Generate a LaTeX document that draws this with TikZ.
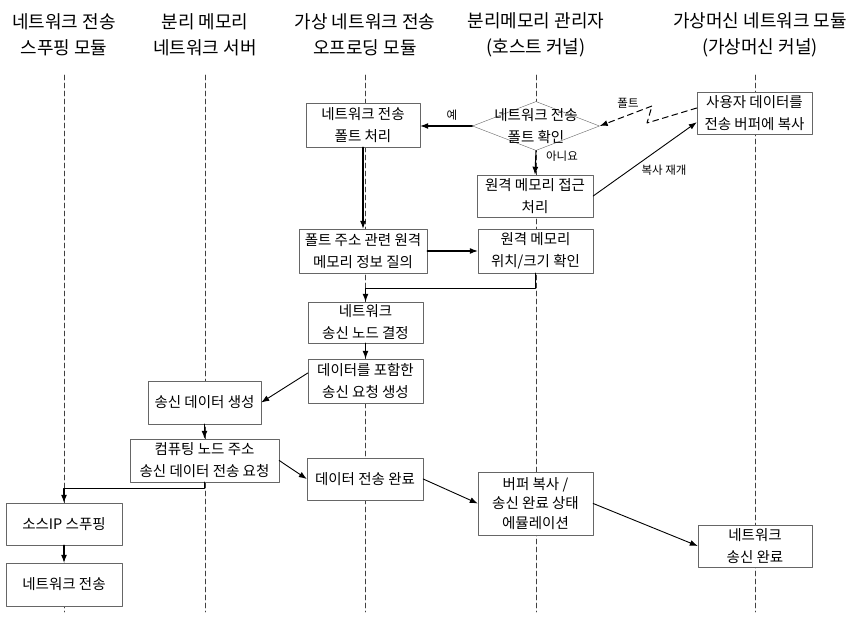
\documentclass[tikz,border=0pt]{standalone}
\usepackage{fontspec}
\setmainfont{Noto Sans CJK KR}
\usepackage{tikz}
\usetikzlibrary{shapes.geometric,arrows.meta,calc,positioning}

\tikzset{
  box/.style={draw=black!60, fill=white, align=center, inner sep=1pt,
    font=\fontsize{14.5}{22}\selectfont},
  decision/.style={diamond, draw=black!60, fill=white, inner sep=0pt,
    minimum width=127pt, minimum height=49pt},
  lane/.style={black!75, line width=0.6pt, dash pattern=on 5pt off 3pt},
  lanehead/.style={align=center, font=\fontsize{18}{26}\selectfont},
  arr/.style={-{Latex[length=8pt,width=6pt]}, line width=1.1pt},
  lbl/.style={font=\fontsize{11.5}{13}\selectfont},
}

\begin{document}
\begin{tikzpicture}[x=1pt, y=1pt, line cap=round, line join=round]
  \useasboundingbox (0,0) rectangle (857,624);

  % lanes
  \foreach \x in {64,205,365,536,755}
    \draw[lane] (\x,549) -- (\x,12);
  \node[lanehead] (h1) at (64,589) {네트워크 전송\\스푸핑 모듈};
  \node[lanehead] (h2) at (205,589) {분리 메모리\\네트워크 서버};
  \node[lanehead] (h3) at (365,589) {가상 네트워크 전송\\오프로딩 모듈};
  \node[lanehead] (h4) at (536,589) {분리메모리 관리자\\(호스트 커널)};
  \node[lanehead] (h5) at (760,589) {가상머신 네트워크 모듈\\(가상머신 커널)};

  % fault check
  \node[decision] (chk) at (536,498) {};
  \node[box, draw=none, fill=none] (chkt) at (chk) {네트워크 전송\\폴트 확인};
  \node[box, minimum width=114pt, minimum height=44pt] (flt) at (363,499) {네트워크 전송\\폴트 처리};
  \node[box, minimum width=116pt, minimum height=42pt] (rma) at (535,428) {원격 메모리 접근\\처리};
  \node[box, minimum width=115pt, minimum height=42pt] (usr) at (754.5,511) {사용자 데이터를\\전송 버퍼에 복사};

  \draw[arr] (chk.west) -- (flt.east |- chk.west);
  \node[lbl] (yes) at (452,509) {예};
  \draw[arr] (chk.south) -- (rma.north);
  \node[lbl] (no) at (562,468) {아니요};
  \coordinate (f1) at (647,501);
  \coordinate (f2) at (652,518);
  \draw[arr, line width=1pt, dash pattern=on 6pt off 4pt]
    ($(usr.west)+(0,5)$) -- (f1) -- (f2) -- (chk.east);
  \node[lbl] (fault) at (628,521) {폴트};
  \draw[arr, line width=0.9pt] (rma.east) -- ($(usr.south west)+(0,12)$);
  \node[lbl] (resume) at (664,454) {복사 재개};

  % remote memory
  \node[box, minimum width=128pt, minimum height=44pt] (qry) at (363,373) {폴트 주소 관련 원격\\메모리 정보 질의};
  \node[box, minimum width=115pt, minimum height=44pt] (loc) at (535.5,373) {원격 메모리\\위치/크기 확인};
  \draw[arr] (flt.south) -- (qry.north);
  \draw[arr] (qry.east) -- (loc.west);

  % send request
  \node[box, minimum width=115pt, minimum height=41pt] (nod) at (365.5,301.5) {네트워크\\송신 노드 결정};
  \node[box, minimum width=115pt, minimum height=44pt] (req) at (365.5,243) {데이터를 포함한\\송신 요청 생성};
  \node[box, minimum width=113pt, minimum height=43pt] (gen) at (204.5,221.5) {송신 데이터 생성};
  \node[box, minimum width=149pt, minimum height=43pt] (adr) at (204.5,163.5) {컴퓨팅 노드 주소\\송신 데이터 전송 요청};
  \node[box, minimum width=116pt, minimum height=42pt] (don) at (365,145) {데이터 전송 완료};
  \draw[arr] (loc.south) -- ++(0,-15) -| (nod.north);
  \draw[arr] (nod.south) -- (req.north);
  \draw[arr, line width=0.9pt] ($(req.west)+(0,8)$) -- (gen.east);
  \draw[arr] (gen.south) -- (adr.north);
  \draw[arr, line width=0.9pt] (adr.east) -- (don.west);

  % spoofing
  \node[box, minimum width=116pt, minimum height=42pt] (spf) at (64,100) {소스IP 스푸핑};
  \node[box, minimum width=116pt, minimum height=43pt] (net) at (64,39.5) {네트워크 전송};
  \draw[arr] (adr.south) -- ++(0,-6) -| (spf.north);
  \draw[arr] (spf.south) -- (net.north);

  % completion
  \node[box, minimum width=115pt, minimum height=63pt, font=\fontsize{14.5}{19.5}\selectfont] (emu) at (535.5,120.5) {버퍼 복사 /\\송신 완료 상태\\에뮬레이션};
  \node[box, minimum width=114pt, minimum height=42pt] (fin) at (755,78) {네트워크\\송신 완료};
  \draw[arr, line width=0.9pt] (don.east) -- (emu.west);
  \draw[arr, line width=0.9pt] (emu.east) -- (fin.west);
\end{tikzpicture}
\end{document}
